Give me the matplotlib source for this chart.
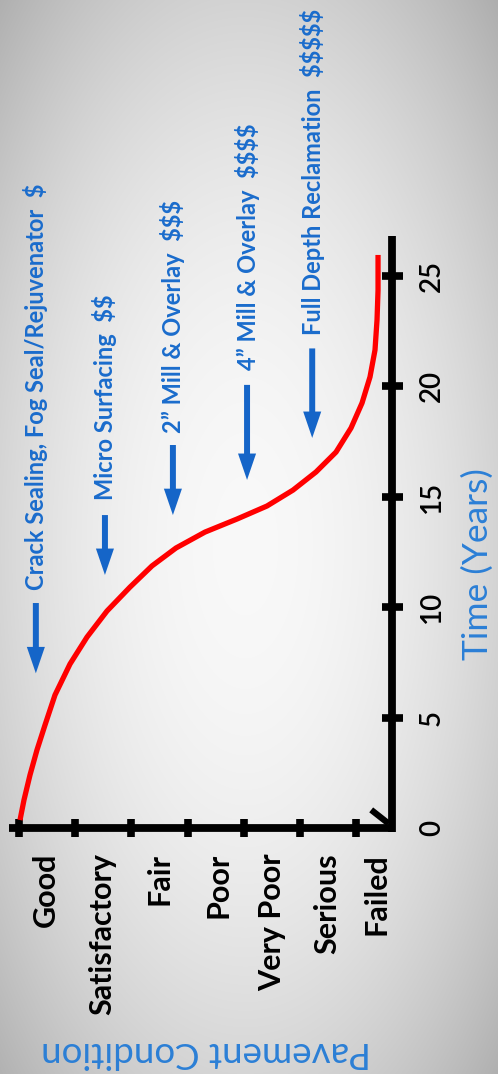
import numpy as np
import matplotlib
matplotlib.use("Agg")
import matplotlib.pyplot as plt
from matplotlib.patches import FancyArrowPatch

plt.rcParams["text.parse_math"] = False

# ---------------- data ----------------
condition_labels = ["Good", "Satisfactory", "Fair", "Poor", "Very Poor", "Serious", "Failed"]
condition_label_pos = [0.48, 1.48, 2.51, 3.55, 4.51, 5.49, 6.36]
condition_ticks = [0, 1, 2, 3, 4, 5, 6]
time_ticks = [0, 5, 10, 15, 20, 25]

curve_time = [0.36, 1.27, 2.40, 3.53, 4.66, 6.02, 7.42, 8.64, 9.82, 10.90, 11.86,
              12.67, 13.39, 13.98, 14.57, 15.29, 16.11, 17.01, 18.10, 19.23, 20.41,
              21.63, 22.99, 24.34, 25.93]
curve_cond = [0.018, 0.089, 0.196, 0.320, 0.463, 0.641, 0.908, 1.211, 1.567, 1.976, 2.368,
              2.795, 3.311, 3.881, 4.415, 4.878, 5.288, 5.644, 5.911, 6.107, 6.249,
              6.338, 6.374, 6.392, 6.392]

treatments = ["Crack Sealing, Fog Seal/Rejuvenator  $",
              "Micro Surfacing  $$",
              "2\u201d Mill & Overlay  $$$",
              "4\u201d Mill & Overlay  $$$$",
              "Full Depth Reclamation  $$$$$"]
treat_cond = [0.30, 1.53, 2.74, 4.06, 5.22]
arrow_tail = [10.18, 14.16, 17.33, 20.05, 21.7]
arrow_tip = [7.0, 11.45, 14.16, 15.75, 17.65]
text_start = [10.77, 14.84, 17.87, 20.72, 22.3]

AXIS_X = 6.64      # condition coordinate of time axis
AXIS_TOP = 26.8

BLUE_ARROW = "#1565c8"
BLUE_TEXT = "#1a6ccc"
BLUE_TITLE = "#2b7fd6"

# ---------------- figure ----------------
fig = plt.figure(figsize=(4.98, 10.74), dpi=100)
ax = fig.add_axes([0, 0, 1, 1])
xl = (-19 / 56.17, (498 - 19) / 56.17)
yl = ((828 - 1074) / 22.1, 828 / 22.1)
ax.set_xlim(*xl)
ax.set_ylim(*yl)
ax.axis("off")

# background radial gradient
W, H = 498, 1074
X, Y = np.meshgrid(np.arange(W), np.arange(H))
dx = (X - 245) / 300.0
dy = (Y - 545) / 640.0
r2 = dx ** 2 + dy ** 2
val = np.clip(0.975 - 0.205 * r2, 0.6, 1.0)
ax.imshow(np.dstack([val, val, val]), extent=(xl[0], xl[1], yl[0], yl[1]),
          aspect="auto", origin="upper", zorder=0, interpolation="bilinear")

# axes lines
lw_axis = 5.6
ax.plot([-0.18, AXIS_X], [0, 0], color="black", lw=lw_axis, solid_capstyle="butt", zorder=3)
ax.plot([AXIS_X, AXIS_X], [-0.17, AXIS_TOP], color="black", lw=lw_axis, solid_capstyle="butt", zorder=3)
for c in condition_ticks:
    ax.plot([c, c], [-0.4, 0.4], color="black", lw=5.5, solid_capstyle="butt", zorder=3)
for t in time_ticks[1:]:
    ax.plot([AXIS_X - 0.18, AXIS_X + 0.2], [t, t], color="black", lw=5.5, solid_capstyle="butt", zorder=3)
ax.plot([6.27, 6.58], [0.82, 0.2], color="black", lw=4.5, solid_capstyle="butt", zorder=3)

# curve
ax.plot(curve_cond, curve_time, color="#ff0000", lw=3.8, solid_capstyle="butt",
        solid_joinstyle="round", zorder=4)

# tick labels
for lab, c in zip(condition_labels, condition_label_pos):
    ax.text(c, -1.13, lab, rotation=90, ha="center", va="top", fontsize=22,
            family="Lato", weight="bold", color="black", zorder=5)
for t in time_ticks:
    ax.text(7.35, t, str(t), rotation=90, ha="center", va="center", fontsize=20,
            family="Lato", weight="semibold", color="black", zorder=5)

# axis titles
ax.text(8.17, 11.95, "Time (Years)", rotation=90, ha="center", va="center", fontsize=25.5,
        family="Lato", color=BLUE_TITLE, zorder=5)
ax.text(3.33, -10.14, "Pavement Condition", rotation=180, ha="center", va="center",
        fontsize=26.5, family="Lato", color=BLUE_TITLE, zorder=5)

# treatments
for lab, c, t0, t1, ts in zip(treatments, treat_cond, arrow_tail, arrow_tip, text_start):
    arr = FancyArrowPatch((c, t0), (c, t1),
                          arrowstyle="simple,head_length=19,head_width=13,tail_width=4.3",
                          mutation_scale=1, color=BLUE_ARROW, lw=0,
                          shrinkA=0, shrinkB=0, zorder=5)
    ax.add_patch(arr)
    ax.text(c, ts, lab, rotation=90, ha="center", va="bottom", fontsize=17,
            family="Lato", weight="bold", color=BLUE_TEXT, zorder=5)

fig.savefig("out.png", dpi=100)
